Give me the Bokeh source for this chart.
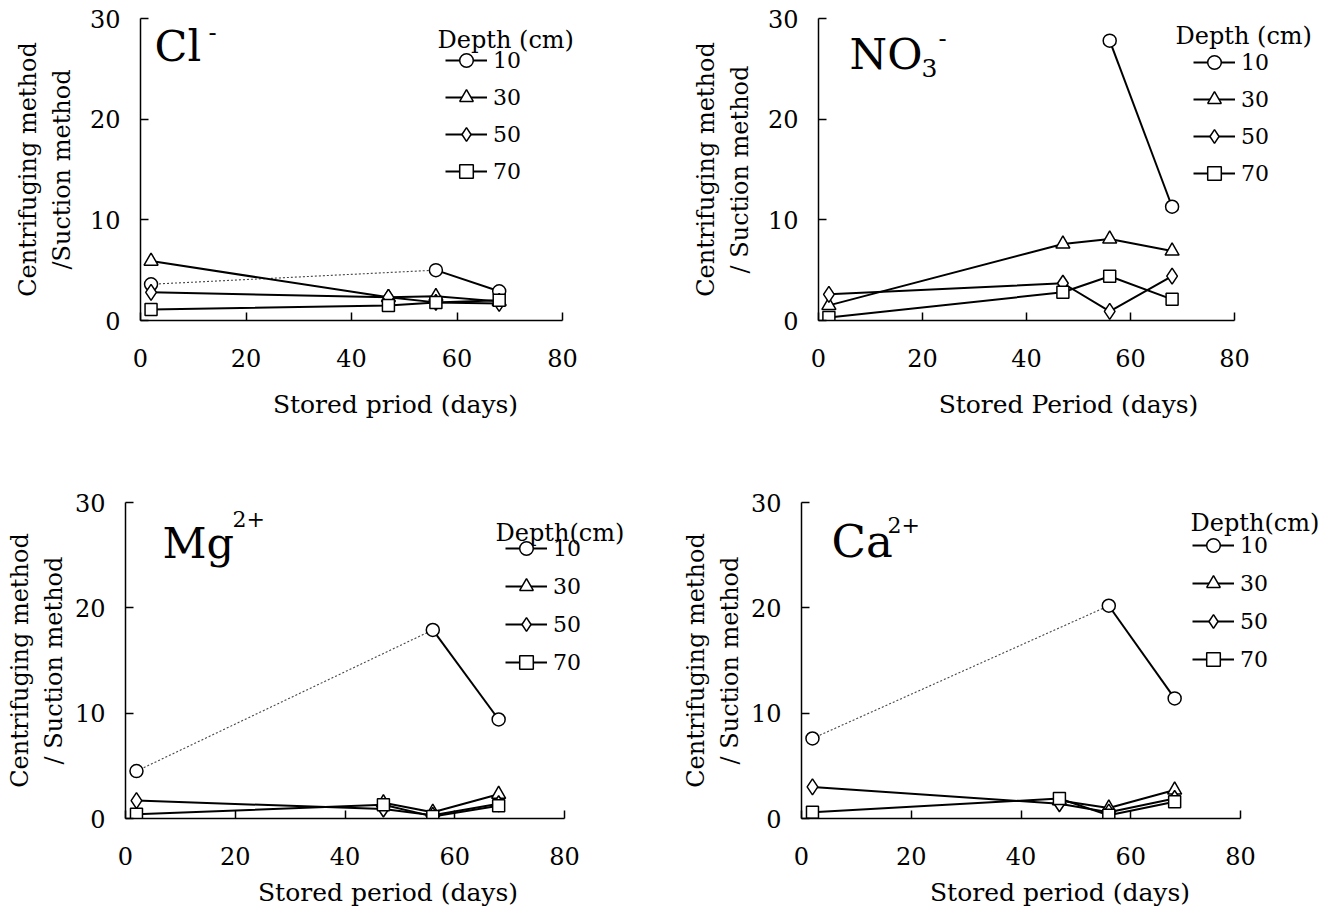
import math
from bokeh.plotting import figure
from bokeh.layouts import column, row
from bokeh.models import Legend, LegendItem, Label, Range1d, FixedTicker
from bokeh.embed import file_html
from bokeh.resources import INLINE

nan = float("nan")

# ---------------- data ----------------
days = [2, 47, 56, 68]
depths = ["10", "30", "50", "70"]
x_ticks = [0, 20, 40, 60, 80]
y_ticks = [0, 10, 20, 30]

cl_10 = [3.6, nan, 5.0, 2.9]
cl_30 = [5.9, 2.3, 2.4, 1.9]
cl_50 = [2.8, 2.3, 1.8, 1.7]
cl_70 = [1.1, 1.5, 1.8, 2.0]

no3_10 = [nan, nan, 27.8, 11.3]
no3_30 = [1.5, 7.6, 8.1, 6.9]
no3_50 = [2.6, 3.7, 0.9, 4.4]
no3_70 = [0.3, 2.8, 4.4, 2.1]

mg_10 = [4.5, nan, 17.9, 9.4]
mg_30 = [nan, 1.5, 0.6, 2.3]
mg_50 = [1.7, 0.9, 0.3, 1.4]
mg_70 = [0.4, 1.3, 0.2, 1.2]

ca_10 = [7.6, nan, 20.2, 11.4]
ca_30 = [nan, 1.7, 1.0, 2.7]
ca_50 = [3.0, 1.4, 0.6, 1.9]
ca_70 = [0.6, 1.9, 0.3, 1.6]

markers = ["circle", "triangle", "diamond", "square"]
marker_sizes = [13, 14, 16, 12]

FONT = "DejaVu Serif"


def gap_segments(xs, ys):
    idx = [i for i, y in enumerate(ys) if not math.isnan(y)]
    segx, segy = [], []
    for a, b in zip(idx, idx[1:]):
        if b - a > 1:
            segx.append([xs[a], xs[b]])
            segy.append([ys[a], ys[b]])
    return segx, segy


def make_panel(series, fig_w, fig_h, bl, br, bt, bb, ax80, ax30,
               xlabel, ylabel, x_std, xt_std, y_std, yt_std,
               name_parts, legend_title, title_pos, legend_pos, legend_sp):
    frame_w = fig_w - bl - br
    frame_h = fig_h - bt - bb
    p = figure(width=fig_w, height=fig_h,
               x_range=Range1d(0, 80 * frame_w / ax80),
               y_range=Range1d(0, 30 * frame_h / ax30),
               output_backend="svg", toolbar_location=None,
               min_border_left=bl, min_border_right=br,
               min_border_top=bt, min_border_bottom=bb)
    p.outline_line_color = None
    p.xgrid.visible = False
    p.ygrid.visible = False
    p.background_fill_color = "white"
    p.border_fill_color = "white"

    for ax in (p.xaxis[0], p.yaxis[0]):
        ax.axis_line_color = "black"
        ax.axis_line_width = 1.5
        ax.major_tick_line_color = "black"
        ax.major_tick_line_width = 1.5
        ax.major_tick_in = 8
        ax.major_tick_out = 0
        ax.minor_tick_line_color = None
        ax.major_label_text_font = FONT
        ax.major_label_text_font_size = "24px"
        ax.major_label_text_color = "black"
        ax.axis_label_text_font = FONT
        ax.axis_label_text_font_style = "normal"
        ax.axis_label_text_color = "black"

    p.xaxis.axis_label_text_font_size = "25px"
    p.yaxis.axis_label_text_font_size = "24px"
    p.xaxis.ticker = FixedTicker(ticks=x_ticks)
    p.yaxis.ticker = FixedTicker(ticks=y_ticks)
    p.xaxis.bounds = (0, 80)
    p.yaxis.bounds = (0, 30)
    p.xaxis.axis_label = xlabel
    p.yaxis.axis_label = ylabel
    p.xaxis.major_label_standoff = xt_std
    p.xaxis.axis_label_standoff = x_std
    p.yaxis.major_label_standoff = yt_std
    p.yaxis.axis_label_standoff = y_std

    line_rs = []
    for ys in series:
        gx, gy = gap_segments(days, ys)
        if gx:
            p.multi_line(gx, gy, line_color="#444444", line_width=1.1,
                         line_dash="2 2")
        line_rs.append(p.line(days, ys, line_color="black", line_width=2))

    scat_rs = []
    for ys, m, s in zip(series, markers, marker_sizes):
        scat_rs.append(p.scatter(days, ys, marker=m, size=s,
                                 fill_color="white", line_color="black",
                                 line_width=1.5))

    items = [LegendItem(label=d, renderers=[lr, sr])
             for d, lr, sr in zip(depths, line_rs, scat_rs)]
    legend = Legend(items=items, location=legend_pos, orientation="vertical",
                    glyph_width=42, glyph_height=34, label_height=34,
                    spacing=legend_sp, padding=0, margin=0,
                    label_standoff=6,
                    border_line_color=None, background_fill_alpha=0,
                    label_text_font=FONT, label_text_font_size="22px",
                    label_text_color="black")
    p.add_layout(legend)

    p.add_layout(Label(x=title_pos[0], y=title_pos[1], x_units="screen",
                       y_units="screen", text=legend_title, text_font=FONT,
                       text_font_size="24px", text_baseline="middle",
                       text_color="black"))

    for (txt, x, y, size) in name_parts:
        p.add_layout(Label(x=x, y=y, x_units="screen", y_units="screen",
                           text=txt, text_font=FONT, text_font_size=size,
                           text_baseline="alphabetic", text_color="black"))
    return p


ylab1 = "Centrifuging method\n/Suction method"
ylab2 = "Centrifuging method\n/ Suction method"

p1 = make_panel([cl_10, cl_30, cl_50, cl_70], 668, 448, 140, 18, 18, 126,
                422, 304, "Stored priod (days)", ylab1, 20, 28, 11, 20,
                [("Cl", 14, 275, "43px"), ("-", 68, 289, "24px")],
                "Depth (cm)", (297, 281), (305, 132), 3)

p2 = make_panel([no3_10, no3_30, no3_50, no3_70], 656, 448, 150, 6, 18, 128,
                416, 302, "Stored Period (days)", ylab2, 20, 28, 11, 20,
                [("NO", 31, 267, "43px"), ("3", 103, 253, "25px"),
                 ("-", 120, 283, "24px")],
                "Depth (cm)", (357, 285), (375, 130), 3)

p3 = make_panel([mg_10, mg_30, mg_50, mg_70], 668, 466, 125, 18, 52, 96,
                439, 318, "Stored period (days)", ylab2, 10, 28, 4, 20,
                [("Mg", 37, 276, "43px"), ("2+", 107, 300, "22px")],
                "Depth(cm)", (370, 286), (380, 139), 4)

p4 = make_panel([ca_10, ca_30, ca_50, ca_70], 656, 466, 133, 6, 54, 92,
                439, 320, "Stored period (days)", ylab2, 10, 28, 4, 20,
                [("Ca", 30, 277, "45px"), ("2+", 86, 294, "22px")],
                "Depth(cm)", (389, 296), (391, 142), 4)

layout = column(row(p1, p2), row(p3, p4))

open("out.html", "w").write(file_html(layout, INLINE))
